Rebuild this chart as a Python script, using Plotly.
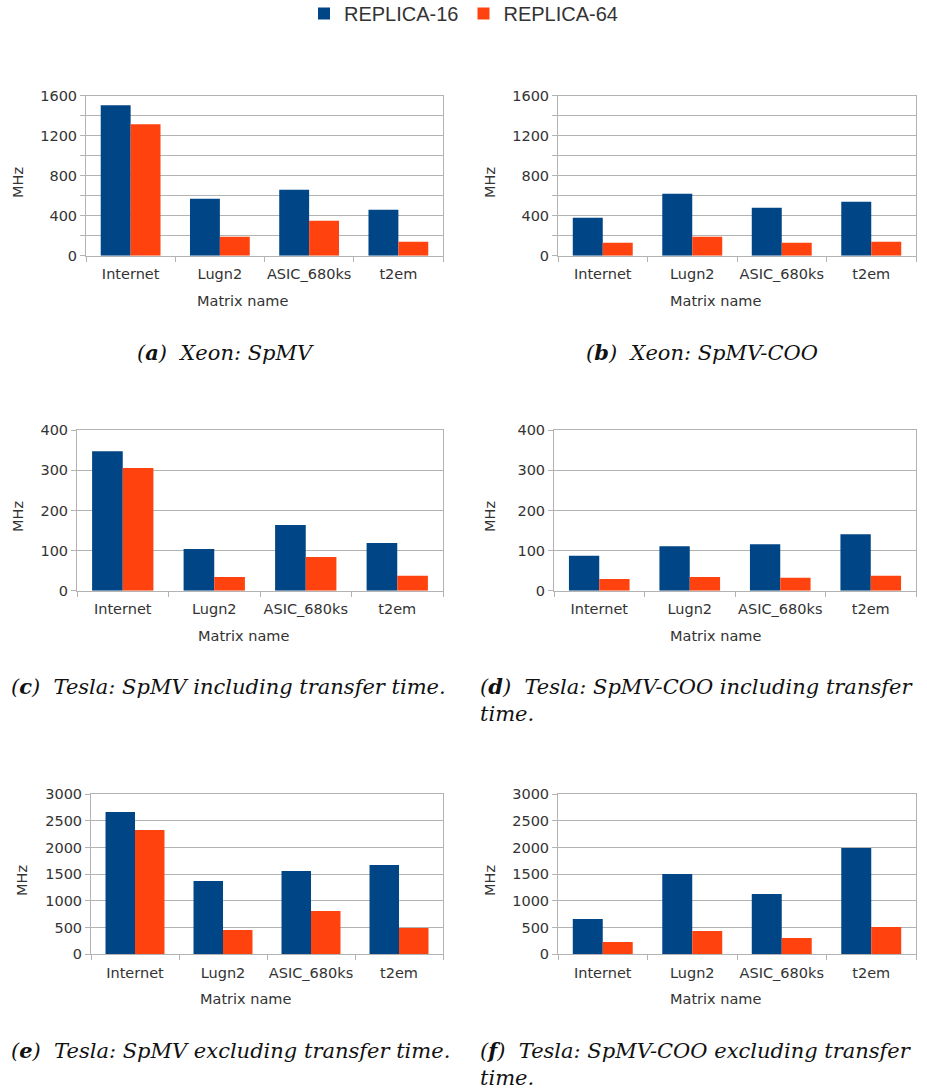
import plotly.graph_objects as go

# ---------------- data ----------------
categories = ["Internet", "Lugn2", "ASIC_680ks", "t2em"]
series_names = ["REPLICA-16", "REPLICA-64"]

xeon_spmv_r16 = [1505, 570, 660, 460]
xeon_spmv_r64 = [1315, 190, 350, 140]
xeon_coo_r16 = [380, 620, 480, 540]
xeon_coo_r64 = [130, 190, 130, 140]
tesla_incl_spmv_r16 = [348, 104, 164, 119]
tesla_incl_spmv_r64 = [306, 34, 84, 37]
tesla_incl_coo_r16 = [87, 111, 116, 141]
tesla_incl_coo_r64 = [29, 34, 32, 37]
tesla_excl_spmv_r16 = [2670, 1375, 1560, 1675]
tesla_excl_spmv_r64 = [2330, 456, 812, 494]
tesla_excl_coo_r16 = [660, 1505, 1130, 1995]
tesla_excl_coo_r64 = [230, 437, 306, 512]

y_axis_max = [1600, 1600, 400, 400, 3000, 3000]
y_axis_step = [400, 400, 100, 100, 500, 500]
y_minor_step = [200, 200, None, None, None, None]

x_title = "Matrix name"
y_title = "MHz"
caption_letters = ["a", "b", "c", "d", "e", "f"]
caption_texts = [
    "Xeon: SpMV",
    "Xeon: SpMV-COO",
    "Tesla: SpMV including transfer time.",
    "Tesla: SpMV-COO including transfer<br>time.",
    "Tesla: SpMV excluding transfer time.",
    "Tesla: SpMV-COO excluding transfer<br>time.",
]

panels_r16 = [xeon_spmv_r16, xeon_coo_r16, tesla_incl_spmv_r16,
              tesla_incl_coo_r16, tesla_excl_spmv_r16, tesla_excl_coo_r16]
panels_r64 = [xeon_spmv_r64, xeon_coo_r64, tesla_incl_spmv_r64,
              tesla_incl_coo_r64, tesla_excl_spmv_r64, tesla_excl_coo_r64]

# ---------------- styling / layout ----------------
W, H = 927, 1090
BLUE = "#004586"
ORANGE = "#ff420e"
GRID = "#b3b3b3"
TXT = "#333333"
SANS = "DejaVu Sans"
SERIF = "DejaVu Serif"
CAP_SIZE = 21

# plot-area pixel boxes: (left, right, top, bottom)
boxes = [
    (86, 443, 95.7, 255.7),
    (558, 916, 95.7, 255.7),
    (77, 443, 430.3, 590.7),
    (554, 916, 430.3, 590.7),
    (91, 443, 794.3, 954.3),
    (558, 916, 794.3, 954.3),
]
ytitle_pos = [(18, 183), (490, 183), (18, 517), (490, 517), (22, 881), (490, 881)]
xtitle_pos = [(242, 301), (715, 301), (243, 636), (715, 636), (245, 999), (715, 999)]
# (x, y of first-line centre, xanchor)
caption_pos = [(225, 352, "center"), (702, 352, "center"),
               (9, 686, "left"), (478, 686, "left"),
               (9, 1050, "left"), (478, 1050, "left")]


def px(x):
    return x / W


def py(y):
    return 1 - y / H


fig = go.Figure()
layout = {}
annotations = []

for i in range(6):
    n = "" if i == 0 else str(i + 1)
    xa, ya = "x" + n, "y" + n
    for s, (vals, col) in enumerate([(panels_r16[i], BLUE), (panels_r64[i], ORANGE)]):
        fig.add_trace(go.Bar(
            x=categories, y=vals, name=series_names[s],
            marker=dict(color=col, line=dict(width=0)),
            xaxis=xa, yaxis=ya, legendgroup=series_names[s],
            showlegend=(i == 0),
        ))
    l, r, t, b = boxes[i]
    layout["xaxis" + n] = dict(
        domain=[px(l), px(r)], anchor=ya, type="category",
        automargin=False, tickangle=0, ticklabelstandoff=5,
        showline=True, linecolor=GRID, linewidth=1, mirror=True,
        showgrid=False, zeroline=False,
        ticks="outside", tickson="boundaries",
        ticklen=5, tickcolor=GRID,
        tickfont=dict(family=SANS, size=14.5, color=TXT),
        fixedrange=True,
    )
    yax = dict(
        domain=[py(b), py(t)], anchor=xa, automargin=False,
        range=[0, y_axis_max[i]], dtick=y_axis_step[i], tick0=0,
        showline=True, linecolor=GRID, linewidth=1, mirror=True,
        showgrid=True, gridcolor=GRID, gridwidth=1,
        zeroline=False,
        ticks="outside", ticklen=5, tickcolor=GRID,
        tickfont=dict(family=SANS, size=14.5, color=TXT),
        fixedrange=True,
    )
    if y_minor_step[i]:
        yax["minor"] = dict(dtick=y_minor_step[i], showgrid=True,
                            gridcolor=GRID, ticks="outside", ticklen=5,
                            tickcolor=GRID)
    layout["yaxis" + n] = yax

    yx, yy = ytitle_pos[i]
    annotations.append(dict(
        text=y_title, x=px(yx), y=py(yy), xref="paper", yref="paper",
        textangle=-90, showarrow=False, xanchor="center", yanchor="middle",
        font=dict(family=SANS, size=14.5, color=TXT),
    ))
    tx, ty = xtitle_pos[i]
    annotations.append(dict(
        text=x_title, x=px(tx), y=py(ty), xref="paper", yref="paper",
        showarrow=False, xanchor="center", yanchor="middle",
        font=dict(family=SANS, size=14.5, color=TXT),
    ))
    cx, cy, anc = caption_pos[i]
    annotations.append(dict(
        text="(<b>" + caption_letters[i] + "</b>)\u00a0\u00a0" + caption_texts[i],
        x=px(cx), y=py(cy - CAP_SIZE * 0.68), xref="paper", yref="paper",
        showarrow=False, xanchor=anc, yanchor="top", align="left",
        font=dict(family=SERIF, size=CAP_SIZE, color="#111111", style="italic"),
    ))

fig.update_layout(
    template="none",
    width=W, height=H, autosize=False,
    margin=dict(l=0, r=0, t=0, b=0, pad=0, autoexpand=False),
    paper_bgcolor="white", plot_bgcolor="white",
    barmode="group", bargap=0.33, bargroupgap=0,
    showlegend=True,
    legend=dict(orientation="h", x=0.5, xanchor="center", y=1.0 + 6 / H, yanchor="top",
                font=dict(family="Liberation Sans", size=20, color=TXT),
                itemwidth=30, tracegroupgap=0, bgcolor="rgba(0,0,0,0)",
                borderwidth=0),
    annotations=annotations,
    **layout,
)

fig.write_html("out.html")
